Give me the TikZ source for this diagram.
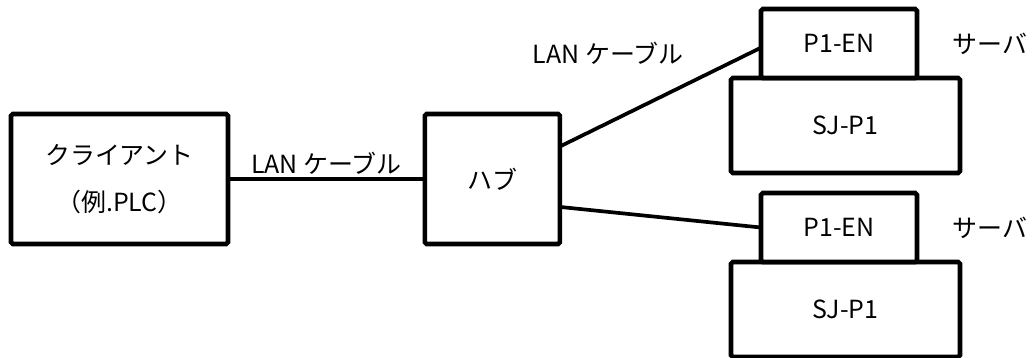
\documentclass[tikz,border=0pt]{standalone}
\usepackage{fontspec}
\setmainfont{Noto Sans CJK JP}
\usetikzlibrary{positioning,calc}

\begin{document}
\begin{tikzpicture}[x=0.02cm, y=-0.02cm, node distance=0pt,
  font=\fontsize{14.2pt}{26.7pt}\selectfont,
  box/.style={draw, line width=2.6pt, rounded corners=1pt, fill=white, align=center, inner sep=0pt, outer sep=0pt},
  cable/.style={line width=2.1pt},
  lbl/.style={inner sep=0pt}]
\useasboundingbox (0,0) rectangle (1032,358);
\node[box, minimum width=4.34cm, minimum height=2.6cm] (client) at (119.5,179) {クライアント\\（例.PLC）};
\node[box, minimum width=2.7cm, minimum height=2.6cm, right=3.94cm of client] (hub) {ハブ};
% upper server: P1-EN sits on top of SJ-P1
\node[box, minimum width=4.58cm, minimum height=1.9cm] (sjA) at (845.5,125.5) {SJ-P1};
\node[box, minimum width=3.12cm, minimum height=1.38cm, anchor=south west] (enA) at ($(sjA.north west)+(30,0)$) {P1-EN};
\node[lbl, right=0.7cm of enA] (srvA) {サーバ};
% lower server
\node[box, minimum width=4.58cm, minimum height=1.9cm] (sjB) at (845.5,309.5) {SJ-P1};
\node[box, minimum width=3.12cm, minimum height=1.38cm, anchor=south west] (enB) at ($(sjB.north west)+(30,0)$) {P1-EN};
\node[lbl, right=0.7cm of enB] (srvB) {サーバ};
\draw[cable] (client) -- node[lbl, above=1.5pt] (lanA) {LAN ケーブル} (hub);
\draw[cable] ($(hub.north east)!0.25!(hub.south east)$) -- ($(enA.north west)!0.56!(enA.south west)$);
\draw[cable] ($(hub.north east)!0.715!(hub.south east)$) -- (enB.west);
\node[lbl] (lanB) at (608,53) {LAN ケーブル};
\end{tikzpicture}
\end{document}
